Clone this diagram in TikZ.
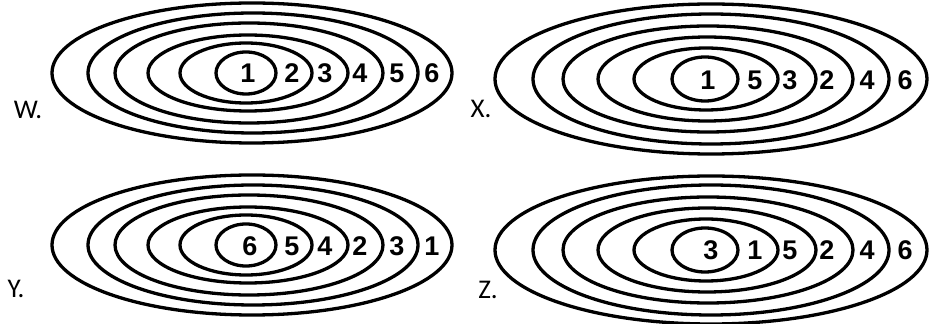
\documentclass[tikz,border=0pt]{standalone}
\usepackage{fontspec}
\setmainfont{Carlito}
\newfontfamily\digitfont{Liberation Sans Bold}
\tikzset{
  ring/.style={line width=3.3pt},
  num/.style={font=\digitfont\fontsize{27}{27}\selectfont,inner sep=0pt},
  tag/.style={font=\fontsize{27}{27}\selectfont,inner sep=0pt},
}

\begin{document}
\begin{tikzpicture}[x=1pt,y=1pt]
  \useasboundingbox (0,0) rectangle (935,324);
  % W: rings and numbers
  \foreach \cx/\rx/\ry in {252/200/70,253/165/60,249/134/50,248/100/38,246/66/30,246/30/21}
    \draw[ring] (\cx,251) ellipse (\rx pt and \ry pt);
  \foreach \i/\t/\px in {1/1/248,2/2/292,3/3/325,4/4/360,5/5/397,6/6/432}
    \node[num] (w\i) at (\px,251) {\t};
  \node[tag] (w) at (28,214) {W.};
  % X
  \foreach \cx/\rx/\ry in {711/216/75,711/178/65,708/145/53,707/109/42,706/72/31,705/33/22}
    \draw[ring] (\cx,245) ellipse (\rx pt and \ry pt);
  \foreach \i/\t/\px in {1/1/708,2/5/755,3/3/790,4/2/827,5/4/867,6/6/905}
    \node[num] (x\i) at (\px,244) {\t};
  \node[tag] (x) at (481,215) {X.};
  % Y
  \foreach \cx/\rx/\ry in {252/200/70,253/165/60,249/134/50,248/100/38,246/66/30,246/30/21}
    \draw[ring] (\cx,79) ellipse (\rx pt and \ry pt);
  \foreach \i/\t/\px in {1/6/250,2/5/292,3/4/325,4/2/360,5/3/397,6/1/432}
    \node[num] (y\i) at (\px,78) {\t};
  \node[tag] (y) at (16,35) {Y.};
  % Z
  \foreach \cx/\rx/\ry in {711/216/74,711/178/65,708/145/53,707/109/42,706/72/31,705/33/22}
    \draw[ring] (\cx,74) ellipse (\rx pt and \ry pt);
  \foreach \i/\t/\px in {1/3/711,2/1/755,3/5/790,4/2/827,5/4/867,6/6/905}
    \node[num] (z\i) at (\px,74) {\t};
  \node[tag] (z) at (488,34) {Z.};
\end{tikzpicture}
\end{document}
